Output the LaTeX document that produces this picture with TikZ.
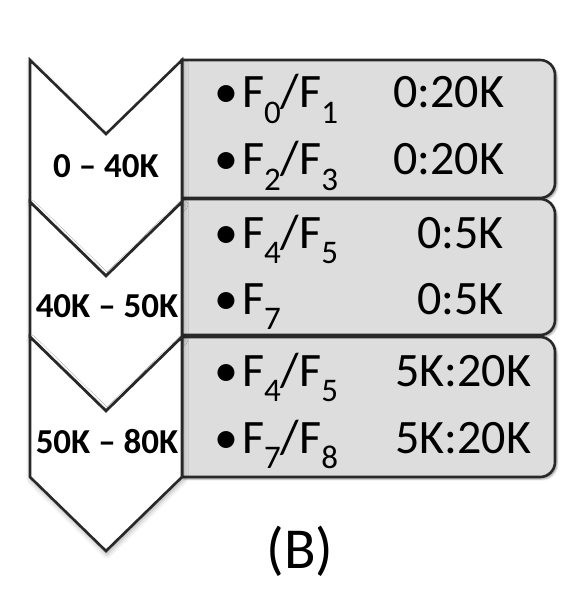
\documentclass[tikz,border=0pt]{standalone}
\usepackage{fontspec}
\setmainfont{Carlito}
\usetikzlibrary{shadows.blur}
\definecolor{boxgray}{RGB}{221,221,221}
\definecolor{edge}{RGB}{40,40,40}
\newcommand\sbs[1]{\raisebox{-0.33em}{\fontsize{33}{33}\selectfont #1}}
\newcommand\bul{•\hspace{4pt}}
\begin{document}
\begin{tikzpicture}[x=1pt,y=-1pt,
  chev/.style={fill=white, draw=edge, line width=2.6pt, line join=miter,
    blur shadow={shadow xshift=1pt, shadow yshift=-3pt, shadow blur radius=5pt, shadow opacity=35}},
  rowbox/.style={fill=boxgray, draw=edge, line width=2.6pt,
    blur shadow={shadow xshift=2pt, shadow yshift=-2pt, shadow blur radius=2pt, shadow opacity=40}},
  rowtxt/.style={inner sep=0pt, anchor=base west, font=\fontsize{48}{48}\selectfont},
  lbl/.style={inner sep=0pt, anchor=base, font=\fontsize{35}{35}\selectfont\bfseries},
]
\useasboundingbox (0,0) rectangle (582,609);
% boxes (right corners rounded)
\path[rowbox] (182,198) -- (182,60) -- (540,60) arc[start angle=-90, end angle=0, radius=15]
  -- (555,183) arc[start angle=0, end angle=90, radius=15] -- cycle;
\path[rowbox] (182,335) -- (182,199) -- (540,199) arc[start angle=-90, end angle=0, radius=15]
  -- (555,320) arc[start angle=0, end angle=90, radius=15] -- cycle;
\path[rowbox] (182,477) -- (182,337) -- (540,337) arc[start angle=-90, end angle=0, radius=15]
  -- (555,462) arc[start angle=0, end angle=90, radius=15] -- cycle;
% chevrons
\path[chev] (30,60) -- (106,134) -- (182,60) -- (182,202) -- (106,276) -- (30,202) -- cycle;
\path[chev] (30,202) -- (106,276) -- (182,202) -- (182,337) -- (106,411) -- (30,337) -- cycle;
\path[chev] (30,337) -- (106,411) -- (182,337) -- (182,477) -- (106,551) -- (30,477) -- cycle;
% labels
\node[lbl] (l1) at (106,178) {0 – 40K};
\node[lbl] (l2) at (107,317) {40K – 50K};
\node[lbl] (l3) at (107,453) {50K – 80K};
% rows
\node[rowtxt] (r1) at (214,108) {\bul F\sbs{0}/F\sbs{1}};
\node[rowtxt] (v1) at (393,108) {0:20K};
\node[rowtxt] (r2) at (214,175) {\bul F\sbs{2}/F\sbs{3}};
\node[rowtxt] (v2) at (393,175) {0:20K};
\node[rowtxt] (r3) at (214,248) {\bul F\sbs{4}/F\sbs{5}};
\node[rowtxt] (v3) at (417,248) {0:5K};
\node[rowtxt] (r4) at (214,314) {\bul F\sbs{7}};
\node[rowtxt] (v4) at (417,314) {0:5K};
\node[rowtxt] (r5) at (214,386) {\bul F\sbs{4}/F\sbs{5}};
\node[rowtxt] (v5) at (395,386) {5K:20K};
\node[rowtxt] (r6) at (214,453) {\bul F\sbs{7}/F\sbs{8}};
\node[rowtxt] (v6) at (395,453) {5K:20K};
\node[inner sep=0pt, anchor=base, font=\fontsize{58}{58}\selectfont] (cap) at (300,568) {(B)};
\end{tikzpicture}
\end{document}
